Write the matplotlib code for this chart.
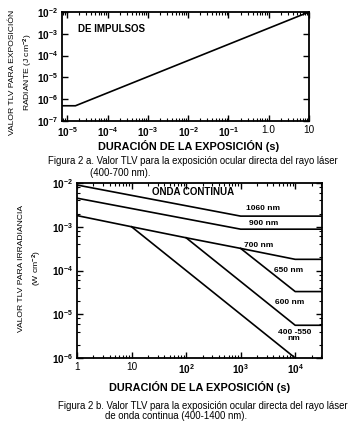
import numpy as np
import matplotlib
matplotlib.use("Agg")
import matplotlib.pyplot as plt
from matplotlib.ticker import FixedLocator, LogLocator, NullFormatter

plt.rcParams['font.family'] = ['Liberation Sans', 'DejaVu Sans']
plt.rcParams['mathtext.fontset'] = 'custom'
plt.rcParams['mathtext.rm'] = 'Liberation Sans:bold'
plt.rcParams['mathtext.default'] = 'rm'

# --- Figura 2a: exposicion de impulsos ---
pulse_t = [7e-6, 1.6e-5, 10]
pulse_h = [5e-7, 5e-7, 1e-2]
top_xticks = [1e-5, 1e-4, 1e-3, 1e-2, 1e-1, 1, 10]
top_xlabels = ['$10^{-5}$', '$10^{-4}$', '$10^{-3}$', '$10^{-2}$', '$10^{-1}$', '1.0', '10']
top_yticks = [1e-7, 1e-6, 1e-5, 1e-4, 1e-3, 1e-2]
top_ylabels = ['$10^{-7}$', '$10^{-6}$', '$10^{-5}$', '$10^{-4}$', '$10^{-3}$', '$10^{-2}$']

# --- Figura 2b: onda continua ---
t_1060 = [1, 1000, 3.1e4]
e_1060 = [9e-3, 1.75e-3, 1.75e-3]
t_900 = [1, 1000, 3.1e4]
e_900 = [4.5e-3, 8.8e-4, 8.8e-4]
t_700 = [1, 10, 100, 1000, 1e4, 3.1e4]
e_700 = [1.8e-3, 1e-3, 5.6e-4, 3.2e-4, 1.8e-4, 1.8e-4]
t_650 = [1000, 1e4, 3.1e4]
e_650 = [3.2e-4, 3.3e-5, 3.3e-5]
t_600 = [100, 1e4, 3.1e4]
e_600 = [5.6e-4, 5.6e-6, 5.6e-6]
t_400 = [10, 1e4]
e_400 = [1e-3, 1e-6]
cw_lines = [(t_1060, e_1060), (t_900, e_900), (t_700, e_700),
            (t_650, e_650), (t_600, e_600), (t_400, e_400)]
cw_names = ['1060 nm', '900 nm', '700 nm', '650 nm', '600 nm', '400 -550\nnm']
cw_name_x = [2.6e3, 2.6e3, 2.1e3, 7.5e3, 8e3, 9.6e3]
cw_name_y = [2.6e-3, 1.17e-3, 3.7e-4, 1e-4, 1.9e-5, 3.2e-6]
bot_xticks = [1, 10, 100, 1000, 1e4]
bot_xlabels = ['1', '10', '$10^2$', '$10^3$', '$10^4$']
bot_yticks = [1e-6, 1e-5, 1e-4, 1e-3, 1e-2]
bot_ylabels = ['$10^{-6}$', '$10^{-5}$', '$10^{-4}$', '$10^{-3}$', '$10^{-2}$']

W, H = 359, 430
fig = plt.figure(figsize=(W / 100, H / 100), dpi=100)


def px(x, y):
    return x / W, 1 - y / H


def estilo(ax):
    ax.tick_params(which='both', direction='in', top=True, right=True,
                   labelsize=7.2, pad=3)
    ax.tick_params(which='major', length=4, width=1)
    ax.tick_params(which='minor', length=2.5, width=0.8)
    for s in ax.spines.values():
        s.set_linewidth(1.3)


# grafico superior
ax1 = fig.add_axes([62 / W, 1 - 121 / H, 247 / W, 109 / H])
ax1.plot(pulse_t, pulse_h, color='black', lw=1.2)
ax1.set_xscale('log')
ax1.set_yscale('log')
ax1.set_xlim(10 ** -5.13, 10)
ax1.set_ylim(1e-7, 1e-2)
ax1.set_xticks(top_xticks)
ax1.set_xticklabels(top_xlabels)
ax1.set_yticks(top_yticks)
ax1.set_yticklabels(top_ylabels)
ax1.xaxis.set_minor_locator(LogLocator(base=10, subs=np.arange(2, 10)))
ax1.xaxis.set_minor_formatter(NullFormatter())
ax1.yaxis.set_minor_locator(FixedLocator([]))
estilo(ax1)
ax1.text(0.065, 0.84, 'DE IMPULSOS', transform=ax1.transAxes, fontsize=7,
         fontweight='bold', ha='left', va='center')

fig.text(*px(13, 72), 'VALOR TLV PARA EXPOSICIÓN', rotation=90, ha='center',
         va='center', fontsize=6.1)
fig.text(*px(28, 72), 'RADIANTE (J cm$^{-2}$)', rotation=90, ha='center',
         va='center', fontsize=6.1)
fig.text(*px(189, 146), 'DURACIÓN DE LA EXPOSICIÓN (s)', ha='center', va='center',
         fontsize=7.8, fontweight='bold')
fig.text(*px(48, 161), 'Figura 2 a. Valor TLV para la exposición ocular directa del rayo láser',
         ha='left', va='center', fontsize=6.95)
fig.text(*px(90, 173), '(400-700 nm).', ha='left', va='center', fontsize=6.95)

# grafico inferior
ax2 = fig.add_axes([77 / W, 1 - 358 / H, 245 / W, 175 / H])
for t, e in cw_lines:
    ax2.plot(t, e, color='black', lw=1.2)
ax2.set_xscale('log')
ax2.set_yscale('log')
ax2.set_xlim(1, 3.1e4)
ax2.set_ylim(1e-6, 1e-2)
ax2.set_xticks(bot_xticks)
ax2.set_xticklabels(bot_xlabels)
ax2.set_yticks(bot_yticks)
ax2.set_yticklabels(bot_ylabels)
ax2.xaxis.set_minor_locator(LogLocator(base=10, subs=np.arange(2, 10)))
ax2.xaxis.set_minor_formatter(NullFormatter())
ax2.yaxis.set_minor_locator(LogLocator(base=10, subs=[2, 4, 6, 8]))
ax2.yaxis.set_minor_formatter(NullFormatter())
estilo(ax2)
for name, x, y in zip(cw_names, cw_name_x, cw_name_y):
    ax2.text(x, y, name, fontsize=6, fontweight='bold', ha='center', va='center',
             linespacing=0.8, multialignment='center')
ax2.text(137, 6.3e-3, 'ONDA CONTINUA', fontsize=7, fontweight='bold',
         ha='center', va='center')

fig.text(*px(22, 268), 'VALOR TLV PARA IRRADIANCIA', rotation=90, ha='center',
         va='center', fontsize=6.1)
fig.text(*px(37, 268), '(W cm$^{-2}$)', rotation=90, ha='center',
         va='center', fontsize=6.1)
fig.text(*px(200, 387), 'DURACIÓN DE LA EXPOSICIÓN (s)', ha='center', va='center',
         fontsize=7.8, fontweight='bold')
fig.text(*px(58, 406), 'Figura 2 b. Valor TLV para la exposición ocular directa del rayo láser',
         ha='left', va='center', fontsize=6.95)
fig.text(*px(105, 416), 'de onda continua (400-1400 nm).', ha='left', va='center',
         fontsize=6.95)

fig.savefig('out.png', dpi=100)
